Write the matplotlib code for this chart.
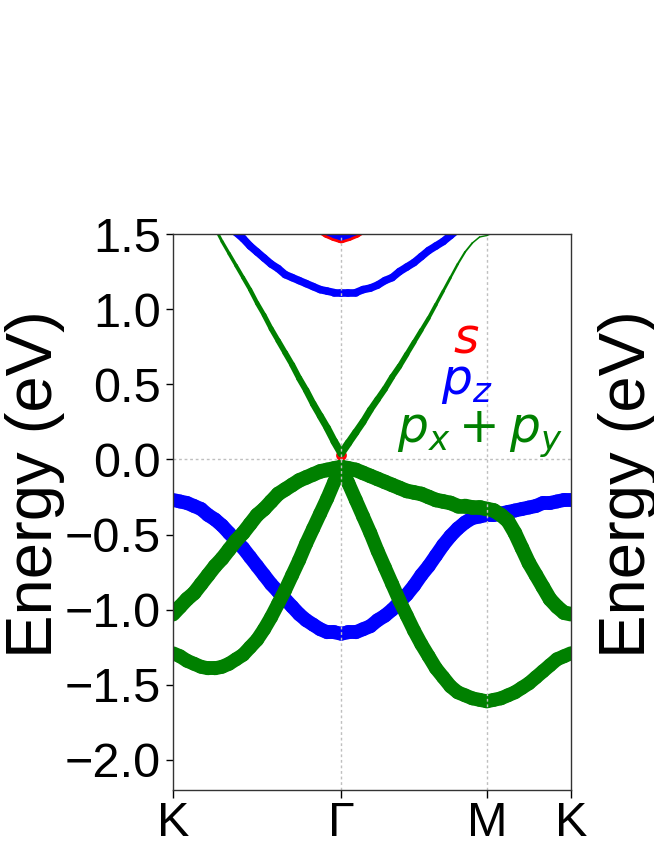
import numpy as np
import matplotlib
matplotlib.use('Agg')
import matplotlib.pyplot as plt
from matplotlib.collections import LineCollection

plt.rcParams['font.family'] = ['Liberation Sans', 'DejaVu Sans']
plt.rcParams['mathtext.fontset'] = 'dejavusans'

# path K - Gamma - M - K (segment lengths of the hexagonal BZ path)
path_labels = ['K', 'Γ', 'M', 'K']
seg_lengths = [4 / 3, 2 / np.sqrt(3), 2 / 3]
seg_points = [25, 21, 13]

# band energies (eV) at the k samples  (K-G | G-M | M-K)
e_pxpy_1 = [-1.03, -0.98, -0.93, -0.89, -0.83, -0.77, -0.71, -0.66, -0.60, -0.54, -0.49, -0.43, -0.37,
            -0.33, -0.28, -0.23, -0.20, -0.17, -0.14, -0.12, -0.10, -0.08, -0.07, -0.06, -0.05,
            -0.06, -0.07, -0.09, -0.11, -0.13, -0.15, -0.17, -0.19, -0.21, -0.22,
            -0.23, -0.25, -0.27, -0.28, -0.29, -0.31, -0.31, -0.32, -0.32, -0.33,
            -0.34, -0.37, -0.41, -0.49, -0.59, -0.69, -0.77, -0.85, -0.93, -0.98, -1.02, -1.03]
e_pxpy_2 = [-1.29, -1.31, -1.34, -1.36, -1.38, -1.39, -1.39, -1.38, -1.36, -1.33, -1.30, -1.25, -1.20,
            -1.13, -1.05, -0.96, -0.87, -0.77, -0.67, -0.56, -0.46, -0.36, -0.26, -0.15, -0.05,
            -0.16, -0.27, -0.38, -0.49, -0.61, -0.72, -0.83, -0.94, -1.04, -1.14,
            -1.23, -1.31, -1.39, -1.45, -1.51, -1.55, -1.57, -1.59, -1.60, -1.61,
            -1.60, -1.59, -1.57, -1.55, -1.52, -1.49, -1.45, -1.41, -1.37, -1.33, -1.31, -1.29]
e_pz_val = [-0.27, -0.28, -0.29, -0.31, -0.33, -0.37, -0.40, -0.44, -0.49, -0.54, -0.59, -0.65, -0.71,
            -0.77, -0.83, -0.88, -0.93, -0.98, -1.03, -1.07, -1.10, -1.13, -1.15, -1.15, -1.16,
            -1.15, -1.15, -1.13, -1.11, -1.07, -1.04, -1.00, -0.95, -0.90, -0.84,
            -0.77, -0.71, -0.64, -0.57, -0.51, -0.46, -0.42, -0.39, -0.38, -0.37,
            -0.37, -0.36, -0.35, -0.34, -0.33, -0.32, -0.31, -0.29, -0.29, -0.28, -0.27, -0.27]
e_pxpy_cond = [1.96, 1.89, 1.83, 1.75, 1.68, 1.61, 1.54, 1.45, 1.37, 1.29, 1.21, 1.13, 1.04,
               0.96, 0.87, 0.79, 0.71, 0.63, 0.54, 0.46, 0.37, 0.29, 0.21, 0.12, 0.04,
               0.11, 0.18, 0.25, 0.33, 0.40, 0.47, 0.55, 0.62, 0.70, 0.78,
               0.86, 0.94, 1.03, 1.12, 1.21, 1.30, 1.38, 1.44, 1.48, 1.49,
               1.51, 1.53, 1.56, 1.60, 1.64, 1.69, 1.74, 1.79, 1.84, 1.89, 1.93, 1.96]
e_pz_cond = [1.94, 1.90, 1.86, 1.81, 1.76, 1.71, 1.66, 1.61, 1.56, 1.51, 1.47, 1.42, 1.38,
             1.34, 1.30, 1.27, 1.23, 1.21, 1.19, 1.17, 1.15, 1.13, 1.12, 1.11, 1.11,
             1.11, 1.11, 1.13, 1.14, 1.16, 1.19, 1.21, 1.25, 1.28, 1.31,
             1.35, 1.39, 1.42, 1.45, 1.49, 1.53, 1.56, 1.59, 1.62, 1.65,
             1.69, 1.71, 1.73, 1.75, 1.77, 1.79, 1.81, 1.84, 1.87, 1.90, 1.92, 1.94]
e_s_cond = [2.60, 2.58, 2.55, 2.52, 2.49, 2.45, 2.41, 2.37, 2.32, 2.27, 2.22, 2.17, 2.11,
            2.05, 1.99, 1.92, 1.85, 1.78, 1.71, 1.64, 1.58, 1.54, 1.51, 1.49, 1.475,
            1.49, 1.51, 1.54, 1.58, 1.63, 1.69, 1.75, 1.81, 1.87, 1.93,
            1.99, 2.05, 2.11, 2.17, 2.22, 2.27, 2.32, 2.36, 2.40, 2.43,
            2.45, 2.47, 2.49, 2.51, 2.53, 2.55, 2.56, 2.57, 2.58, 2.59, 2.60, 2.60]
# px+py weight of the conduction band, drawn as line width (pt)
w_pxpy_cond = [1.2, 1.3, 1.4, 1.5, 1.6, 1.8, 2.0, 2.2, 2.4, 2.6, 2.8, 3.0, 3.2,
               3.4, 3.6, 3.8, 4.0, 4.2, 4.4, 4.6, 4.8, 5.0, 5.2, 5.4, 5.6,
               5.4, 5.2, 5.0, 4.8, 4.6, 4.4, 4.2, 4.0, 3.7, 3.4,
               3.1, 2.8, 2.5, 2.2, 1.9, 1.6, 1.4, 1.2, 1.0, 1.0,
               1.0, 1.0, 1.0, 1.0, 1.0, 1.0, 1.0, 1.0, 1.0, 1.0, 1.0, 1.0]

nodes = np.concatenate([[0], np.cumsum(seg_lengths)])
k = np.concatenate([np.linspace(nodes[0], nodes[1], seg_points[0]),
                    np.linspace(nodes[1], nodes[2], seg_points[1])[1:],
                    np.linspace(nodes[2], nodes[3], seg_points[2])[1:]])


def draw_band(ax, e, color, width, z=1):
    pts = np.column_stack([k, e])
    segs = np.stack([pts[:-1], pts[1:]], axis=1)
    w = np.broadcast_to(np.asarray(width, dtype=float), (len(k),))
    lc = LineCollection(segs, colors=color, linewidths=0.5 * (w[:-1] + w[1:]),
                        capstyle='round', joinstyle='round', zorder=z)
    ax.add_collection(lc)


fig = plt.figure(figsize=(6.54, 8.46), dpi=100)
ax = fig.add_axes([173 / 654, 1 - 790 / 846, 398 / 654, 556 / 846])

# s
draw_band(ax, e_s_cond, 'red', 8)
ax.scatter([nodes[1]], [0.03], s=60, color='red', zorder=1, linewidths=0)
# pz
draw_band(ax, e_s_cond, 'blue', 4)
draw_band(ax, e_pz_val, 'blue', 10)
draw_band(ax, e_pz_cond, 'blue', 5.5)
# px+py
draw_band(ax, e_pxpy_1, 'green', 10.5)
draw_band(ax, e_pxpy_2, 'green', 10)
draw_band(ax, e_pxpy_cond, 'green', w_pxpy_cond)

for x in nodes[1:-1]:
    ax.axvline(x, color='0.75', ls=(0, (2, 2)), lw=1, zorder=1.5)
ax.axhline(0, color='0.75', ls=(0, (2, 2)), lw=1, zorder=1.5)

ax.set_xlim(nodes[0], nodes[-1])
ax.set_ylim(-2.2, 1.5)
ax.set_xticks(nodes)
ax.set_xticklabels(path_labels)
ax.set_yticks(np.arange(-2.0, 1.51, 0.5))
ax.tick_params(labelsize=35, length=5, width=1)
ax.tick_params(axis='x', length=6, pad=2)
for sp in ax.spines.values():
    sp.set_linewidth(1)
    sp.set_color('0.2')

ax.text(0.736, 0.786, '$s$', color='red', fontsize=35, ha='center', va='baseline', transform=ax.transAxes)
ax.text(0.739, 0.712, '$p_z$', color='blue', fontsize=35, ha='center', va='baseline', transform=ax.transAxes)
ax.text(0.771, 0.624, '$p_x + p_y$', color='green', fontsize=35, ha='center', va='baseline',
        transform=ax.transAxes)

fig.text(0.053, 0.428, 'Energy (eV)', rotation=90, ha='center', va='center', fontsize=47)
fig.text(0.960, 0.428, 'Energy (eV)', rotation=90, ha='center', va='center', fontsize=47)

fig.savefig('out.png', dpi=100)
